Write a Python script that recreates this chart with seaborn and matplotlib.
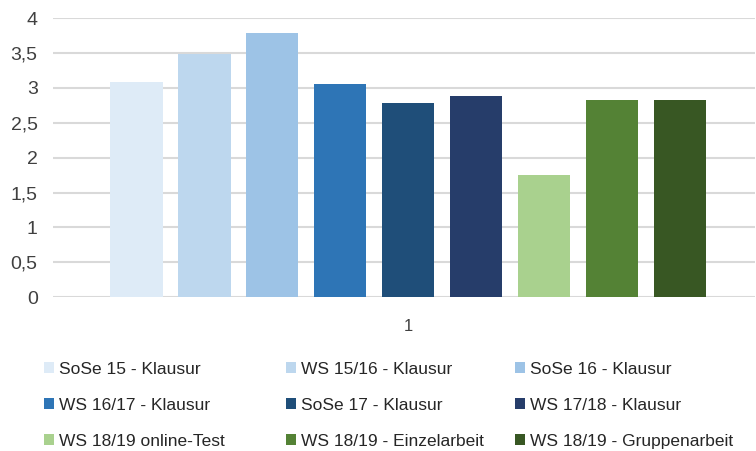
import pandas as pd
import seaborn as sns
from matplotlib import pyplot as plt
from matplotlib.ticker import FuncFormatter

# semesters / exam formats and mean values
labels = [
    "SoSe 15 - Klausur",
    "WS 15/16 - Klausur",
    "SoSe 16 - Klausur",
    "WS 16/17 - Klausur",
    "SoSe 17 - Klausur",
    "WS 17/18 - Klausur",
    "WS 18/19 online-Test",
    "WS 18/19 - Einzelarbeit",
    "WS 18/19 - Gruppenarbeit",
]
values = [3.08, 3.49, 3.78, 3.05, 2.78, 2.88, 1.75, 2.83, 2.83]
category = ["1"] * len(labels)
colors = ["#DEEBF7", "#BDD7EE", "#9DC3E6", "#2E75B6", "#1F4E79",
          "#263D6A", "#A9D18E", "#548235", "#385723"]
y_ticks = [0, 0.5, 1, 1.5, 2, 2.5, 3, 3.5, 4]

df = pd.DataFrame({"cat": category, "label": labels, "value": values})

sns.set_theme(style="white")
plt.rcParams["font.family"] = ["Liberation Sans", "DejaVu Sans"]

fig = plt.figure(figsize=(7.56, 4.51), dpi=100)
ax = fig.add_axes([0.070, 0.341, 0.929, 0.619])

sns.barplot(data=df, x="cat", y="value", hue="label", hue_order=labels,
            palette=colors, saturation=1, linewidth=0, width=0.87, gap=0.23,
            ax=ax, legend=True)

handles, hlabels = ax.get_legend_handles_labels()
ax.get_legend().remove()

ax.set_ylim(0, 4)
ax.set_xlim(-0.5057, 0.4943)
ax.set_yticks(y_ticks)
ax.yaxis.set_major_formatter(FuncFormatter(lambda v, p: f"{v:g}".replace(".", ",")))
ax.grid(axis="y", color="#D9D9D9", linewidth=1.5)
ax.set_axisbelow(True)
for s in ax.spines.values():
    s.set_visible(False)
ax.tick_params(axis="both", length=0, colors="#404040")
ax.tick_params(axis="x", pad=16, labelsize=12)
ax.tick_params(axis="y", pad=11, labelsize=14)
ax.set_xlabel("")
ax.set_ylabel("")

# legend: three columns at Excel-like fixed positions
col_x = [0.058, 0.378, 0.681]
for i, x in enumerate(col_x):
    idx = [i, i + 3, i + 6]
    fig.legend([handles[j] for j in idx], [hlabels[j] for j in idx],
               loc="upper left", bbox_to_anchor=(x, 0.198), ncol=1,
               frameon=False, handlelength=0.6, handleheight=0.6,
               handletextpad=0.25, labelspacing=1.22, borderaxespad=0,
               borderpad=0, prop={"size": 12.5}, labelcolor="#262626")

fig.savefig("out.png", dpi=100)
